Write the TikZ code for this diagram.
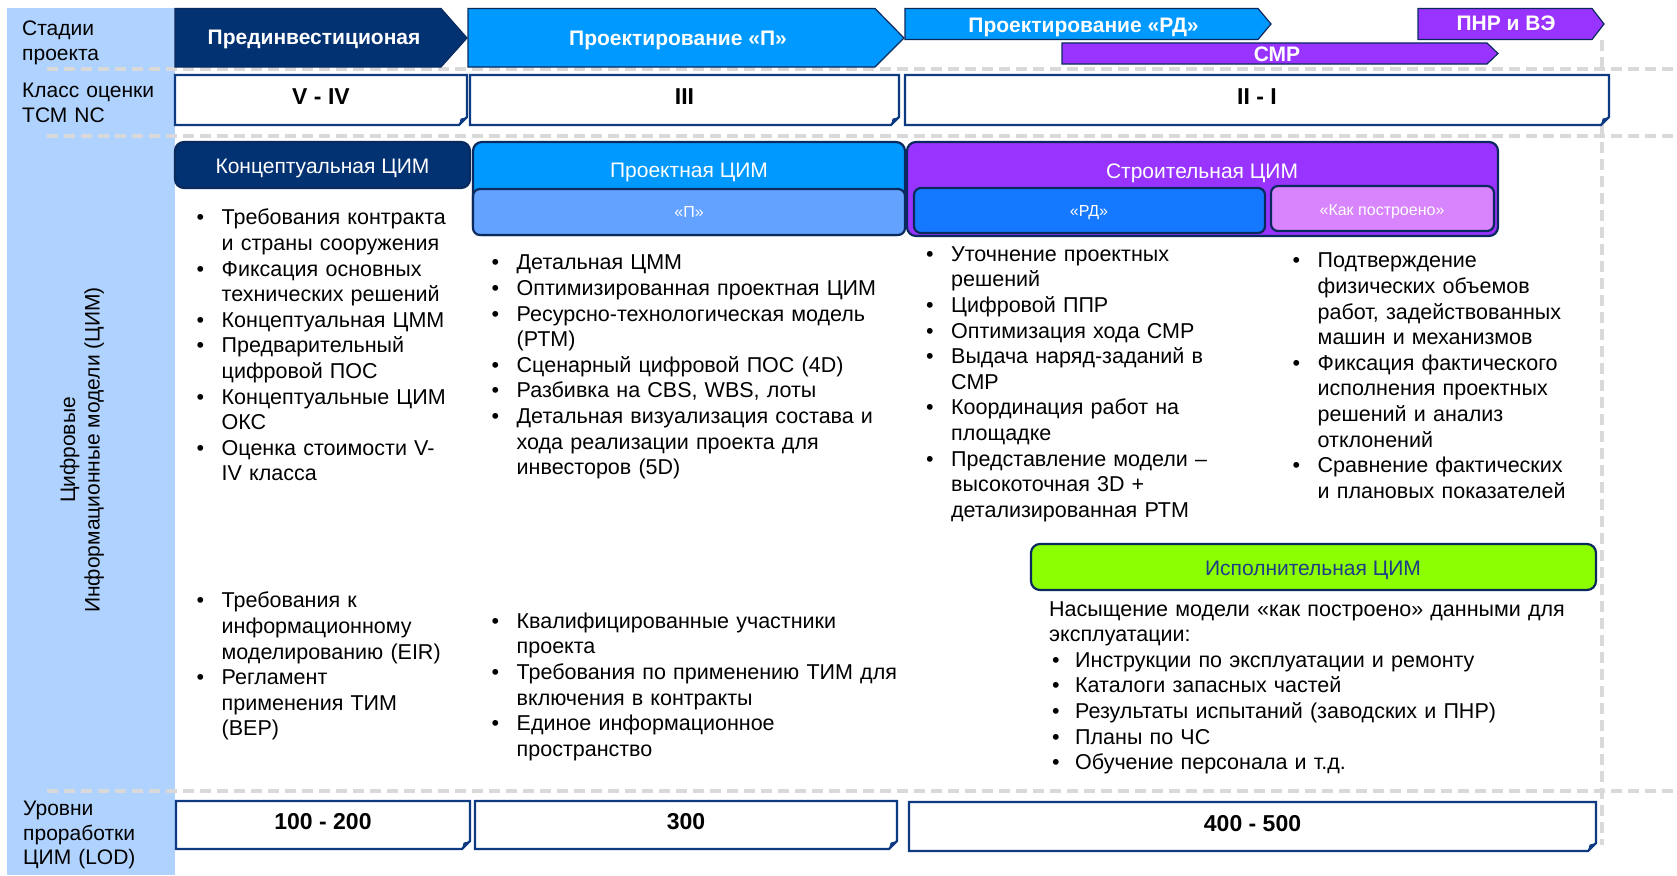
\documentclass[tikz,border=0pt]{standalone}
\usepackage{fontspec}
\setmainfont{Liberation Sans}
\definecolor{bandblue}{HTML}{AFD2FE}
\definecolor{cimnavy}{HTML}{033272}
\definecolor{outnavy}{HTML}{0A2A5E}
\definecolor{classnavy}{HTML}{0D3A80}
\definecolor{bblue}{HTML}{0099FF}
\definecolor{plight}{HTML}{64A2FF}
\definecolor{rdblue}{HTML}{1479FF}
\definecolor{cimpurple}{HTML}{9933FF}
\definecolor{cimpink}{HTML}{D884FC}
\definecolor{execgreen}{HTML}{8CFF00}
\definecolor{exectext}{HTML}{1F3C88}
\definecolor{dashgray}{HTML}{D9D9D9}
\newlength{\bind}\setlength{\bind}{25pt}
\newcommand{\bitem}[1]{\par\hangindent=\bind\hangafter=1\noindent\strut\makebox[\bind][l]{\textbullet}#1\par}
\newcommand{\eitem}[1]{\par\hangindent=26pt\hangafter=1\noindent\strut\hspace*{3pt}\makebox[23pt][l]{\textbullet}#1\par}
\newcommand{\foldbox}[7]{%
  \draw[classframe] (#2,#3) -- (#4,#3) -- (#4,#5-8) -- (#4-8,#5) -- (#2,#5) -- cycle;
  \fill[classnavy] (#4,#5-8) -- (#4-8,#5) -- (#4-6.4,#5-6.4) -- cycle;
  \node[numlbl] (#1) at ({(#2+#4)/2},#6) {#7};
}
\tikzset{
  dashl/.style={draw=dashgray, line width=4pt, dash pattern=on 11pt off 6pt},
  stageshape/.style={draw=outnavy, line width=1.2pt},
  stagelbl/.style={inner sep=0pt, text=white, font=\fontsize{21}{25}\selectfont\bfseries, text height=15pt, text depth=0pt},
  classframe/.style={draw=classnavy, line width=2.2pt, fill=white},
  numlbl/.style={inner sep=0pt, font=\fontsize{23}{27}\selectfont\bfseries, text height=16.5pt, text depth=0pt},
  hdrbox/.style={draw=outnavy, line width=2.2pt, rounded corners=9pt},
  hdrlbl/.style={inner sep=0pt, text=white, font=\fontsize{21}{25}\selectfont, text height=15pt, text depth=0pt},
  sublbl/.style={inner sep=0pt, text=white, font=\fontsize{16}{19}\selectfont, text height=11.5pt, text depth=0pt},
  bandlbl/.style={anchor=north west, inner sep=0pt, text width=150pt, font=\fontsize{21}{24.6}\selectfont},
  bodytext/.style={anchor=north west, inner sep=0pt, text width=#1, font=\fontsize{21.5}{25.6}\selectfont},
}
\begin{document}
\begin{tikzpicture}[x=1pt,y=-1pt]
\useasboundingbox (0,0) rectangle (1677,875);
\fill[white] (0,0) rectangle (1677,875);
% left band
\fill[bandblue] (7,8) rectangle (175,875);
% dashed guide lines
\draw[dashl] (1602,40) -- (1602,845);
\draw[dashl] (47,69) -- (1677,69);
\draw[dashl] (47,136) -- (1677,136);
\draw[dashl] (47,791) -- (1677,791);
% band labels
\node[bandlbl] (lb1) at (22,18.5) {\strut Стадии\newline проекта};
\node[bandlbl] (lb2) at (22,80) {\strut Класс оценки\newline ТСМ NC};
\node[bandlbl] (lb3) at (23,798) {\strut Уровни\newline проработки\newline ЦИМ (LOD)};
\node[rotate=90, align=center, inner sep=0pt, font=\fontsize{21}{24.5}\selectfont] (lb4) at (82,450) {Цифровые\\Информационные модели (ЦИМ)};
% stage arrows
\draw[stageshape, fill=cimnavy] (175,8.5) -- (441,8.5) -- (467,38) -- (441,67) -- (175,67) -- cycle;
\node[stagelbl] (s1) at (314,37.4) {Прединвестиционая};
\draw[stageshape, fill=bblue] (468,8.5) -- (875,8.5) -- (904,38) -- (875,67) -- (468,67) -- cycle;
\node[stagelbl] (s2) at (678,38.5) {Проектирование «П»};
\draw[stageshape, fill=bblue] (905,8.5) -- (1258,8.5) -- (1271,24) -- (1258,39.5) -- (905,39.5) -- cycle;
\node[stagelbl] (s3) at (1083.5,24.6) {Проектирование «РД»};
\draw[stageshape, fill=cimpurple] (1062,43) -- (1487,43) -- (1498,53.5) -- (1487,64) -- (1062,64) -- cycle;
\node[stagelbl] (s4) at (1277,53.5) {СМР};
\draw[stageshape, fill=cimpurple] (1418,8.5) -- (1592,8.5) -- (1604,24) -- (1592,39.5) -- (1418,39.5) -- cycle;
\node[stagelbl] (s5) at (1506,23.5) {ПНР и ВЭ};
% class boxes
\foldbox{c1}{175}{75}{467}{125}{96}{V - IV}
\foldbox{c2}{470}{75}{899}{125}{96}{III}
\foldbox{c3}{905}{75}{1609}{125}{96}{II - I}
% LOD boxes
\foldbox{l1}{176}{801}{470}{849}{821.4}{100 - 200}
\foldbox{l2}{475}{801}{897}{849}{821.4}{300}
\foldbox{l3}{909}{802}{1596}{851}{823.5}{400 - 500}
% model headers
\draw[hdrbox, fill=cimnavy] (175,142) rectangle (470,188);
\node[hdrlbl] (h1) at (322.5,165.5) {Концептуальная ЦИМ};
\draw[hdrbox, fill=bblue] (473,142) rectangle (905,235);
\draw[hdrbox, fill=plight, rounded corners=7pt] (473,189) rectangle (905,235);
\node[hdrlbl] (h2) at (689,169.5) {Проектная ЦИМ};
\node[sublbl] (h2a) at (689,212) {«П»};
\draw[hdrbox, fill=cimpurple] (907,142) rectangle (1498,236);
\draw[hdrbox, fill=rdblue, rounded corners=7pt] (914,188) rectangle (1265,233);
\draw[hdrbox, fill=cimpink, rounded corners=7pt] (1271,186) rectangle (1494,231);
\node[hdrlbl] (h3) at (1202,170.5) {Строительная ЦИМ};
\node[sublbl] (h3a) at (1089,211) {«РД»};
\node[sublbl] (h3b) at (1382,210) {«Как построено»};
\draw[hdrbox, fill=execgreen] (1031,544) rectangle (1596,590);
\node[hdrlbl, text=exectext] (h4) at (1313,568) {Исполнительная ЦИМ};
% body texts
\node[bodytext=280pt] (t1) at (196.5,199) {%
\bitem{Требования контракта\newline и страны сооружения}
\bitem{Фиксация основных\newline технических решений}
\bitem{Концептуальная ЦММ}
\bitem{Предварительный\newline цифровой ПОС}
\bitem{Концептуальные ЦИМ\newline ОКС}
\bitem{Оценка стоимости V-\newline IV класса}};
\node[bodytext=280pt] (t2) at (196.5,582) {%
\bitem{Требования к\newline информационному\newline моделированию (EIR)}
\bitem{Регламент\newline применения ТИМ\newline (BEP)}};
\node[bodytext=420pt] (t3) at (491.5,244) {%
\bitem{Детальная ЦММ}
\bitem{Оптимизированная проектная ЦИМ}
\bitem{Ресурсно-технологическая модель\newline (РТМ)}
\bitem{Сценарный цифровой ПОС (4D)}
\bitem{Разбивка на CBS, WBS, лоты}
\bitem{Детальная визуализация состава и\newline хода реализации проекта для\newline инвесторов (5D)}};
\node[bodytext=420pt] (t4) at (491.5,602.5) {%
\bitem{Квалифицированные участники\newline проекта}
\bitem{Требования по применению ТИМ для\newline включения в контракты}
\bitem{Единое информационное\newline пространство}};
\node[bodytext=360pt] (t5) at (926,235.5) {%
\bitem{Уточнение проектных\newline решений}
\bitem{Цифровой ППР}
\bitem{Оптимизация хода СМР}
\bitem{Выдача наряд-заданий в\newline СМР}
\bitem{Координация работ на\newline площадке}
\bitem{Представление модели –\newline высокоточная 3D +\newline детализированная РТМ}};
\node[bodytext=370pt] (t6) at (1292.5,242) {%
\bitem{Подтверждение\newline физических объемов\newline работ, задействованных\newline машин и механизмов}
\bitem{Фиксация фактического\newline исполнения проектных\newline решений и анализ\newline отклонений}
\bitem{Сравнение фактических\newline и плановых показателей}};
\node[bodytext=580pt] (t7) at (1049,598) {%
\noindent\strut Насыщение модели «как построено» данными для\newline эксплуатации:\par
\eitem{Инструкции по эксплуатации и ремонту}
\eitem{Каталоги запасных частей}
\eitem{Результаты испытаний (заводских и ПНР)}
\eitem{Планы по ЧС}
\eitem{Обучение персонала и т.д.}};
\end{tikzpicture}
\end{document}
